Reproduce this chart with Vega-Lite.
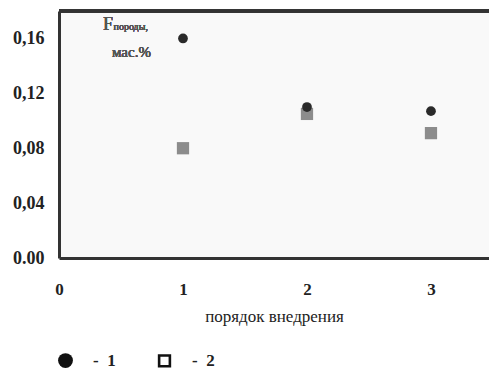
{
  "$schema": "https://vega.github.io/schema/vega-lite/v6.json",
  "width": 430,
  "height": 247,
  "autosize": "none",
  "padding": {"left": 59, "top": 11, "right": 0, "bottom": 111},
  "background": "white",
  "config": {
    "view": {"stroke": null, "fill": "#f9f9f9"},
    "font": "Liberation Serif",
    "legend": {
      "orient": "none", "direction": "horizontal",
      "legendX": -2, "legendY": 341,
      "symbolSize": 220, "symbolOpacity": 1, "labelOffset": 19, "columnPadding": 38,
      "labelFont": "Liberation Serif", "labelFontSize": 17, "labelFontWeight": "bold",
      "labelColor": "#222", "padding": 0
    }
  },
  "data": {
    "values": [
      {"order": 1, "series": "2", "value": 0.080},
      {"order": 2, "series": "2", "value": 0.105},
      {"order": 3, "series": "2", "value": 0.091},
      {"order": 1, "series": "1", "value": 0.160},
      {"order": 2, "series": "1", "value": 0.110},
      {"order": 3, "series": "1", "value": 0.107}
    ]
  },
  "encoding": {
    "x": {
      "field": "order", "type": "quantitative",
      "scale": {"domain": [0, 3.468], "nice": false},
      "axis": {
        "values": [0, 1, 2, 3], "format": "d", "grid": false, "ticks": false,
        "domainWidth": 3, "domainColor": "#333",
        "labelFont": "Liberation Serif", "labelFontSize": 17, "labelFontWeight": "bold",
        "labelColor": "#222", "labelPadding": 23, "labelFlush": false,
        "title": "порядок внедрения", "titleFont": "Liberation Serif",
        "titleFontSize": 17, "titleFontWeight": "normal", "titleColor": "#222",
        "titlePadding": 11
      }
    },
    "y": {
      "field": "value", "type": "quantitative",
      "scale": {"domain": [0, 0.18], "nice": false},
      "axis": {
        "values": [0, 0.04, 0.08, 0.12, 0.16], "grid": false, "ticks": false,
        "domainWidth": 3, "domainColor": "#333",
        "labelExpr": "datum.value == 0 ? '0.00' : replace(format(datum.value, '.2f'), '.', ',')",
        "labelFont": "Liberation Serif", "labelFontSize": 18, "labelFontWeight": "bold",
        "labelColor": "#222", "labelPadding": 15, "labelFlush": false,
        "title": null
      }
    }
  },
  "layer": [
    {
      "mark": {"type": "point", "filled": true, "opacity": 0, "color": "#111"},
      "encoding": {
        "shape": {
          "field": "series", "type": "nominal", "title": null,
          "scale": {"domain": ["1", "2"], "range": ["circle", "M-0.9,-0.9H0.9V0.9H-0.9Z M-0.55,-0.55V0.55H0.55V-0.55Z"]},
          "legend": {
            "title": null,
            "labelExpr": "'-\u00a0\u00a0' + datum.label"
          }
        }
      }
    },
    {
      "transform": [{"filter": "datum.series == '2'"}],
      "mark": {"type": "point", "shape": "square", "filled": true, "opacity": 1, "color": "#8c8c8c", "size": 150}
    },
    {
      "transform": [{"filter": "datum.series == '1'"}],
      "mark": {"type": "point", "shape": "circle", "filled": true, "opacity": 1, "color": "#2a2a2a", "size": 95}
    },
    {
      "mark": {"type": "rule", "strokeWidth": 3, "color": "#333"},
      "encoding": {"x": null, "y": {"datum": 0.18}}
    },
    {
      "mark": {"type": "text", "align": "left", "baseline": "alphabetic", "fontSize": 18, "color": "#555", "font": "Liberation Serif"},
      "encoding": {"x": {"datum": 0.355}, "y": {"datum": 0.166}, "text": {"value": "F"}}
    },
    {
      "mark": {"type": "text", "align": "left", "baseline": "alphabetic", "fontSize": 10, "color": "#555", "font": "Liberation Serif"},
      "encoding": {"x": {"datum": 0.44}, "y": {"datum": 0.166}, "text": {"value": "породы,"}}
    },
    {
      "mark": {"type": "text", "align": "left", "baseline": "alphabetic", "fontSize": 15, "color": "#555", "font": "Liberation Serif"},
      "encoding": {"x": {"datum": 0.427}, "y": {"datum": 0.1465}, "text": {"value": "мас.%"}}
    }
  ]
}
